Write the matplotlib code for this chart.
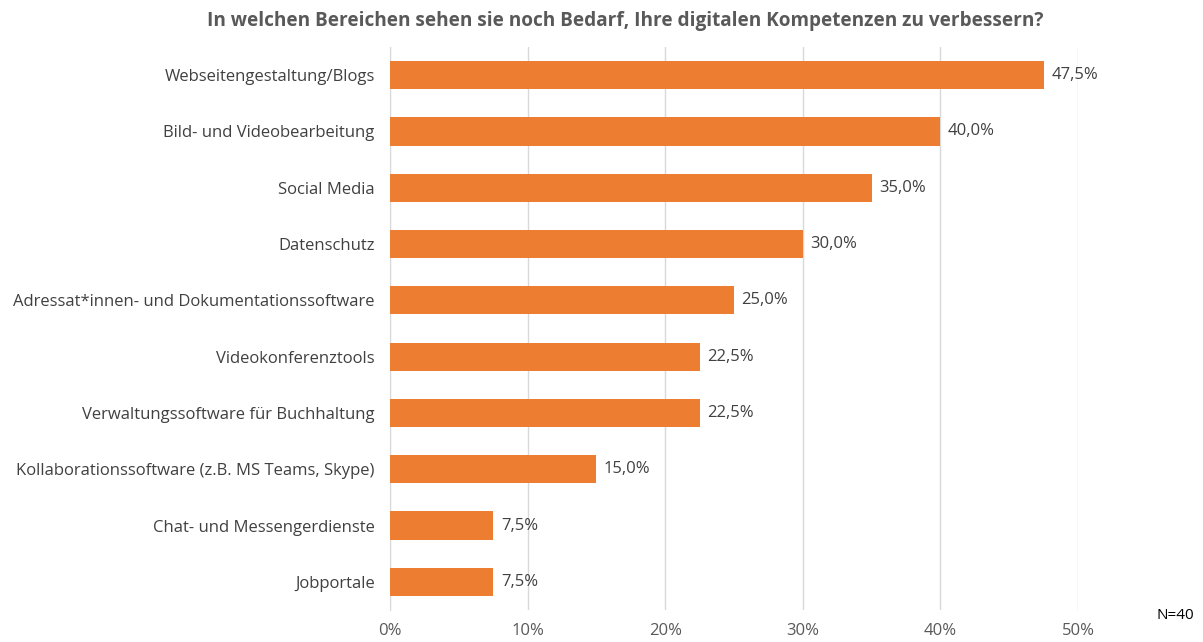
import matplotlib
matplotlib.use("Agg")
import matplotlib.pyplot as plt
from matplotlib.ticker import FuncFormatter

# Daten
kategorien = [
    "Webseitengestaltung/Blogs",
    "Bild- und Videobearbeitung",
    "Social Media",
    "Datenschutz",
    "Adressat*innen- und Dokumentationssoftware",
    "Videokonferenztools",
    "Verwaltungssoftware für Buchhaltung",
    "Kollaborationssoftware (z.B. MS Teams, Skype)",
    "Chat- und Messengerdienste",
    "Jobportale",
]
werte = [47.5, 40.0, 35.0, 30.0, 25.0, 22.5, 22.5, 15.0, 7.5, 7.5]
x_ticks = [0, 10, 20, 30, 40, 50]

titel = "In welchen Bereichen sehen sie noch Bedarf, Ihre digitalen Kompetenzen zu verbessern?"

plt.rcParams['font.family'] = ['Open Sans', 'DejaVu Sans']

fig = plt.figure(figsize=(12.03, 6.42), dpi=100)
ax = fig.add_axes([0.3242, 0.0498, 0.8961 - 0.3242, 0.877])

pos = list(range(len(kategorien)))
ax.barh(pos, werte, height=0.5, color='#ED7D31', zorder=3)

# Wertebeschriftungen
for p, w in zip(pos, werte):
    ax.text(w + 0.55, p, f"{w:.1f}%".replace(".", ","), va='center', ha='left',
            fontsize=12, color='#404040')

ax.set_yticks(pos)
ax.set_yticklabels(kategorien, fontsize=12, color='#404040')
ax.set_ylim(len(kategorien) - 0.5, -0.5)
ax.tick_params(axis='y', length=0, pad=11)

ax.set_xlim(0, 50)
ax.set_xticks(x_ticks)
ax.xaxis.set_major_formatter(FuncFormatter(lambda v, _: f"{v:.0f}%"))
ax.tick_params(axis='x', length=0, pad=9, labelsize=12, labelcolor='#595959')
ax.grid(axis='x', color='#D9D9D9', linewidth=1, zorder=0)

for s in ['top', 'right', 'bottom']:
    ax.spines[s].set_visible(False)
ax.spines['left'].set_color('#D9D9D9')

fig.text(0.5195, 0.968, titel, ha='center', va='center', fontsize=13.7,
         fontweight='bold', color='#595959')
fig.text(0.9925, 0.042, "N=40", ha='right', va='center', fontsize=11, color='black')

fig.savefig("out.png", dpi=100)
